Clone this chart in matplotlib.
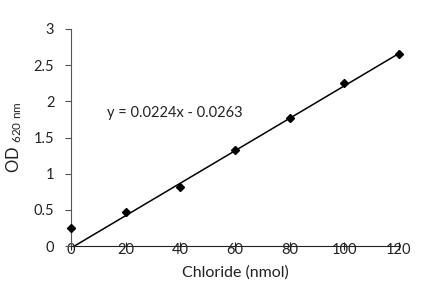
import numpy as np
import matplotlib.pyplot as plt

plt.rcParams['font.family'] = ['Lato', 'DejaVu Sans']

chloride = [0, 20, 40, 60, 80, 100, 120]
od620 = [0.25, 0.47, 0.82, 1.33, 1.77, 2.25, 2.66]
slope = 0.0224
intercept = -0.0263
x_ticks = [0, 20, 40, 60, 80, 100, 120]
y_ticks = [0, 0.5, 1, 1.5, 2, 2.5, 3]
y_tick_labels = ['0', '0.5', '1', '1.5', '2', '2.5', '3']


def main():
    fig = plt.figure(figsize=(4.36, 3.05), dpi=100)
    ax = fig.add_axes([0.163, 0.193, 0.752, 0.712])

    ax.plot(chloride, od620, linestyle='none', marker='D', markersize=4,
            color='black', clip_on=False, zorder=3)

    # trendline from the fitted equation
    xs = np.array([chloride[0], chloride[-1]])
    ax.plot(xs, slope * xs + intercept, color='black', linewidth=1.1)

    ax.text(13, 1.84, 'y = 0.0224x - 0.0263', fontsize=10.5, ha='left', va='center',
            color='#222222')

    ax.set_xlim(0, 120)
    ax.set_ylim(0, 3)
    ax.set_xticks(x_ticks)
    ax.set_yticks(y_ticks)
    ax.set_yticklabels(y_tick_labels)

    ax.spines['top'].set_visible(False)
    ax.spines['right'].set_visible(False)
    ax.spines['left'].set_color('#555555')
    ax.spines['bottom'].set_color('#222222')

    ax.tick_params(axis='y', direction='out', length=4, color='#555555',
                   labelsize=10.5, labelcolor='#222222', pad=8)
    ax.tick_params(axis='x', direction='inout', length=6, color='#222222',
                   labelsize=10.5, labelcolor='#222222', pad=-5)

    ax.set_xlabel('Chloride (nmol)', fontsize=11.5, color='#222222', labelpad=6)
    ax.set_ylabel(r'OD $\mathregular{_{620\ nm}}$', fontsize=12, color='#222222',
                  labelpad=7)

    fig.savefig('out.png', dpi=100)


if __name__ == "__main__":
    main()
